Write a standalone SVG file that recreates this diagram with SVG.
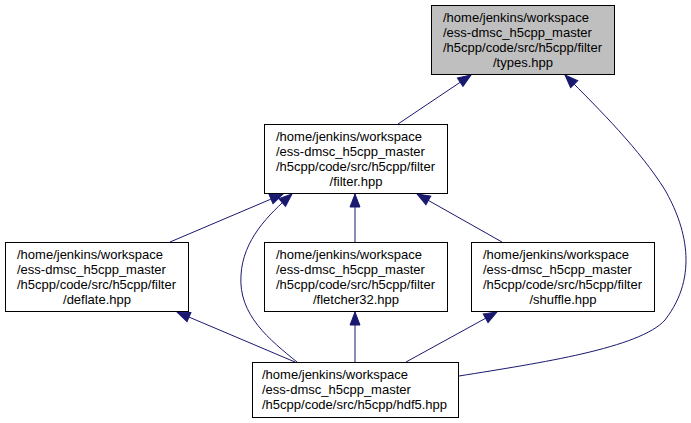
<svg xmlns="http://www.w3.org/2000/svg" width="691" height="423" viewBox="0 0 691 423">
<style>
.box{fill:#ffffff;stroke:#000000;stroke-width:1}
.hl{fill:#bfbfbf}
.t{font-family:"Liberation Sans",Arial,sans-serif;font-size:13px;fill:#000000}
.c{text-anchor:middle}
.e{fill:none;stroke:#191970;stroke-width:1;marker-end:url(#arr)}
</style>
<defs>
<marker id="arr" markerUnits="userSpaceOnUse" markerWidth="14" markerHeight="11" refX="13" refY="5" orient="auto" overflow="visible">
<path d="M0,0 L13,5 L0,10 z" fill="#191970" stroke="#191970" stroke-width="1"/>
</marker>
</defs>
<rect width="691" height="423" fill="#ffffff"/>
<g id="connectors">
<path class="e" d="M398,124 L471,75"/>
<path class="e" d="M459,376 C540,363 640,348 665,320 C700,275 685,225 665,190 C640,150 600,110 565,75"/>
<path class="e" d="M170,242 L283,194"/>
<path class="e" d="M297,362 C270,340 238,315 241,275 C243,240 268,215 292,194"/>
<path class="e" d="M355,242 L355,194"/>
<path class="e" d="M502,242 L417,194"/>
<path class="e" d="M295,362 L177,312"/>
<path class="e" d="M355,362 L355,312"/>
<path class="e" d="M406,362 L497,312"/>
</g>
<g id="types">
<rect class="box hl" x="431.5" y="5.5" width="183" height="69"/>
<text class="t" x="443" y="22">/home/jenkins/workspace</text>
<text class="t" x="443" y="37">/ess-dmsc_h5cpp_master</text>
<text class="t" x="443" y="52">/h5cpp/code/src/h5cpp/filter</text>
<text class="t c" x="523" y="67">/types.hpp</text>
</g>
<g id="filter">
<rect class="box" x="264.5" y="124.5" width="183" height="69"/>
<text class="t" x="276" y="141">/home/jenkins/workspace</text>
<text class="t" x="276" y="156">/ess-dmsc_h5cpp_master</text>
<text class="t" x="276" y="171">/h5cpp/code/src/h5cpp/filter</text>
<text class="t c" x="356" y="186">/filter.hpp</text>
</g>
<g id="deflate">
<rect class="box" x="5.5" y="242.5" width="183" height="69"/>
<text class="t" x="17" y="259">/home/jenkins/workspace</text>
<text class="t" x="17" y="274">/ess-dmsc_h5cpp_master</text>
<text class="t" x="17" y="289">/h5cpp/code/src/h5cpp/filter</text>
<text class="t c" x="97" y="304">/deflate.hpp</text>
</g>
<g id="fletcher32">
<rect class="box" x="264.5" y="242.5" width="183" height="69"/>
<text class="t" x="276" y="259">/home/jenkins/workspace</text>
<text class="t" x="276" y="274">/ess-dmsc_h5cpp_master</text>
<text class="t" x="276" y="289">/h5cpp/code/src/h5cpp/filter</text>
<text class="t c" x="356" y="304">/fletcher32.hpp</text>
</g>
<g id="shuffle">
<rect class="box" x="471.5" y="242.5" width="183" height="69"/>
<text class="t" x="483" y="259">/home/jenkins/workspace</text>
<text class="t" x="483" y="274">/ess-dmsc_h5cpp_master</text>
<text class="t" x="483" y="289">/h5cpp/code/src/h5cpp/filter</text>
<text class="t c" x="563" y="304">/shuffle.hpp</text>
</g>
<g id="hdf5">
<rect class="box" x="252.5" y="362.5" width="206" height="55"/>
<text class="t" x="262" y="379">/home/jenkins/workspace</text>
<text class="t" x="262" y="394">/ess-dmsc_h5cpp_master</text>
<text class="t" x="262" y="409">/h5cpp/code/src/h5cpp/hdf5.hpp</text>
</g>
</svg>
